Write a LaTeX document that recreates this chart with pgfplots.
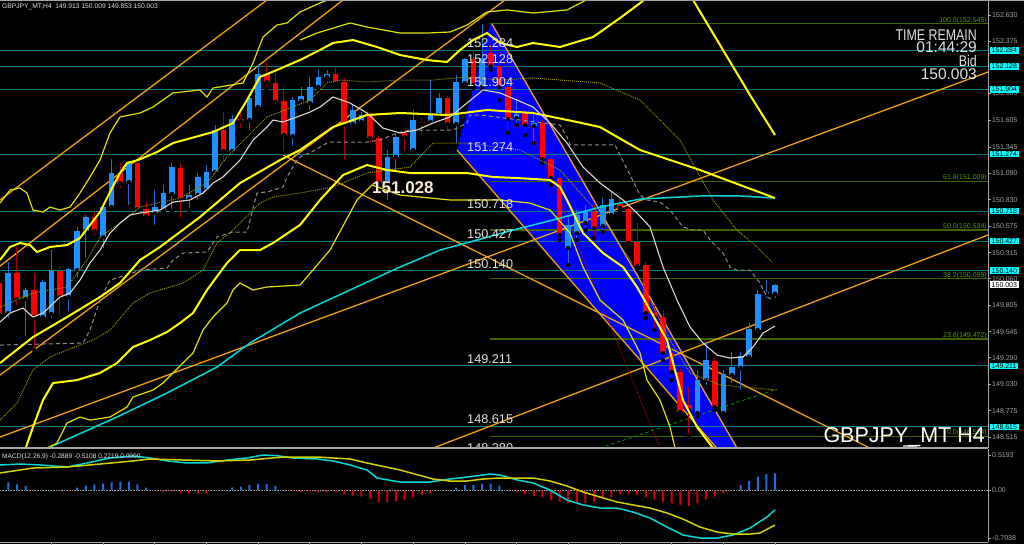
\documentclass[border=0pt]{standalone}
\usepackage{pgfplots}
\usepackage{pgfplotstable}
\usepackage{graphicx}
\pgfplotsset{compat=1.18}
\usepackage{fontspec}
\setmainfont{Liberation Sans}

\definecolor{tealL}{RGB}{0,128,128}
\definecolor{fibg}{RGB}{60,100,0}
\definecolor{fibtxt}{RGB}{80,160,0}
\definecolor{orangeL}{RGB}{240,160,20}
\definecolor{yel}{RGB}{255,255,0}
\definecolor{yelthin}{RGB}{225,225,0}
\definecolor{cyanL}{RGB}{0,215,215}
\definecolor{whiteMA}{RGB}{225,215,205}
\definecolor{greyD}{RGB}{150,140,130}
\definecolor{oliveD}{RGB}{150,150,0}
\definecolor{bull}{RGB}{30,144,255}
\definecolor{bullw}{RGB}{30,110,210}
\definecolor{bear}{RGB}{255,0,0}
\definecolor{bearw}{RGB}{170,0,0}
\definecolor{axgrey}{RGB}{165,165,165}
\definecolor{lbl}{RGB}{225,225,225}
\definecolor{boxcyan}{RGB}{0,255,255}
\definecolor{hblue}{RGB}{30,110,220}
\definecolor{hred}{RGB}{210,0,0}
\definecolor{macdyel}{RGB}{210,210,0}
\definecolor{peach}{RGB}{250,235,215}

\pgfplotstableread{
x o h l c
8.27 149.725 150.222 149.657 150.115
25.50 149.862 149.969 149.482 149.950
42.73 149.686 150.047 149.657 150.028
51.34 149.716 150.339 149.657 150.135
68.57 149.881 150.164 149.725 150.154
77.19 150.144 150.564 150.047 150.525
85.80 150.525 150.680 150.242 150.661
103.03 150.466 150.778 150.339 150.758
111.65 150.758 151.226 150.739 151.090
128.88 151.002 151.207 150.758 151.187
154.72 150.700 150.924 150.564 150.758
163.34 150.729 150.973 150.710 150.895
171.95 150.885 151.187 150.720 151.148
189.18 150.836 150.973 150.729 150.875
197.80 150.875 151.090 150.807 151.051
206.41 150.924 151.168 150.905 151.100
215.03 151.100 151.558 151.090 151.509
232.26 151.304 151.655 151.246 151.616
249.49 151.606 151.831 151.489 151.821
258.10 151.733 152.142 151.684 152.055
292.56 151.450 151.831 151.333 151.801
301.18 151.792 151.928 151.772 151.840
309.79 151.772 152.026 151.684 151.928
318.41 151.928 152.094 151.899 152.026
327.02 152.026 152.094 151.996 152.055
352.87 151.567 151.762 151.538 151.704
361.48 151.587 151.684 151.558 151.655
387.33 150.992 151.314 150.807 151.246
395.94 151.246 151.470 151.090 151.441
413.17 151.314 151.704 151.294 151.606
430.40 151.587 151.996 151.567 151.655
439.02 151.655 151.870 151.626 151.821
456.25 151.567 152.045 151.363 151.977
464.86 151.967 152.211 151.938 152.201
482.09 151.928 152.545 151.899 152.211
516.55 151.626 151.801 151.558 151.665
533.78 151.548 151.675 151.382 151.577
568.24 150.359 150.651 150.193 150.583
576.86 150.505 150.729 150.437 150.680
585.47 150.602 150.778 150.534 150.710
602.70 150.573 150.846 150.515 150.778
611.32 150.680 150.905 150.632 150.836
697.47 148.751 149.170 148.721 149.072
706.08 149.072 149.433 149.004 149.267
723.31 148.751 149.170 148.721 149.131
731.93 149.121 149.345 149.024 149.199
740.54 149.189 149.345 148.955 149.306
749.16 149.297 149.628 149.267 149.569
757.77 149.560 149.950 149.511 149.911
766.39 149.911 150.047 149.852 149.930
775.00 149.913 150.009 149.853 150.003
}\bulltab

\pgfplotstableread{
x o h l c
-0.35 150.018 150.066 149.677 149.725
16.88 150.115 150.369 149.784 149.862
34.11 149.950 150.115 149.365 149.686
59.96 150.135 150.174 149.677 149.881
94.42 150.661 150.710 150.466 150.525
120.26 151.090 151.187 150.924 150.992
137.49 151.187 151.265 150.729 150.739
146.11 150.739 150.807 150.632 150.671
180.57 151.139 151.187 150.632 150.836
223.64 151.509 151.684 151.187 151.304
240.87 151.616 151.684 151.509 151.597
266.72 152.055 152.172 151.909 151.977
275.33 151.967 152.094 151.753 151.782
283.95 151.792 151.928 151.285 151.460
335.64 152.055 152.113 151.938 151.967
344.25 151.977 152.016 151.197 151.567
370.10 151.655 151.684 151.363 151.431
378.71 151.431 151.450 150.963 150.992
404.56 151.480 151.499 151.285 151.441
421.79 151.587 151.626 151.441 151.577
447.63 151.821 151.840 151.489 151.567
473.48 152.201 152.289 151.918 151.948
490.71 152.259 152.337 152.094 152.133
499.32 152.133 152.191 151.801 151.928
507.94 151.928 151.948 151.480 151.616
525.17 151.675 151.704 151.460 151.558
542.40 151.577 151.606 151.187 151.226
551.01 151.226 151.265 150.973 151.041
559.63 151.041 151.100 150.437 150.486
594.09 150.710 150.778 150.456 150.554
619.93 150.788 150.846 150.710 150.749
628.55 150.739 150.778 150.378 150.408
637.16 150.417 150.602 150.144 150.183
645.78 150.193 150.222 149.677 149.725
654.39 149.725 149.803 149.560 149.686
663.01 149.686 149.755 149.267 149.335
671.62 149.335 149.384 149.072 149.150
680.24 149.150 149.189 148.731 148.760
688.85 148.829 149.004 148.524 148.780
714.70 149.257 149.287 148.780 148.809
}\beartab

\begin{document}
\begin{tikzpicture}
\fill[black] (0,0) rectangle (1024pt,544pt);
\begin{axis}[
  at={(0pt,96pt)}, anchor=south west, scale only axis,
  width=988pt, height=448pt,
  xmin=0, xmax=988, ymin=148.41, ymax=152.776,
  clip mode=individual,
  axis x line=none, axis y line*=right,
  axis line style={draw=axgrey, line width=1pt},
  ytick={152.630,152.375,151.865,151.605,151.345,151.090,150.830,150.575,150.315,150.060,149.805,149.545,149.290,149.030,148.775,148.515},
  yticklabels={152.630,152.375,151.865,151.605,151.345,151.090,150.830,150.575,150.315,150.060,149.805,149.545,149.290,149.030,148.775,148.515},
  yticklabel style={font=\fontsize{7}{7}\selectfont, text=axgrey, inner sep=1pt, text height=5pt, text depth=0pt},
  major tick length=3pt, tick style={draw=axgrey, line width=0.6pt}, tick align=outside,
]
% blue channel
\addplot[fill=blue, draw=none, forget plot] coordinates {(490,152.542) (457,151.314) (762,147.903) (767,147.903) (492,152.542)};
% horizontal teal lines
\foreach \p in {152.284,152.128,151.904,151.274,150.718,150.427,150.140,149.211,148.615}{
  \edef\tmp{\noexpand\addplot[tealL, line width=1pt, forget plot] coordinates {(0,\p) (988,\p)};}\tmp
}
% fibonacci
\foreach \p in {152.545,151.009,150.534,150.059,149.472,148.524}{
  \edef\tmp{\noexpand\addplot[fibg, line width=1.2pt, forget plot] coordinates {(490,\p) (988,\p)};}\tmp
}
% orange trend lines
\addplot[orangeL, line width=1.3pt] coordinates {(0,150.827) (267,152.776)};
\addplot[orangeL, line width=1.3pt] coordinates {(0,150.183) (343,152.776)};
\addplot[orangeL, line width=1.3pt] coordinates {(0,149.121) (505,152.776)};
\addplot[orangeL, line width=1.3pt] coordinates {(0,148.517) (988,152.074)};
\addplot[orangeL, line width=1.3pt] coordinates {(402,148.293) (988,150.486)};
\addplot[orangeL, line width=1.3pt] coordinates {(283,151.265) (900,148.263)};
\addplot[orangeL, line width=1.3pt] coordinates {(492,152.542) (767,147.903)};
\addplot[orangeL, line width=1.3pt] coordinates {(457,151.314) (762,147.903)};
\addplot[hred, densely dotted, line width=0.8pt] coordinates {(495,152.386) (660,148.410)};
\addplot[green!60!black, dashed, line width=0.9pt] coordinates {(600,148.410) (777,148.985)};
% candles
\addplot[only marks, mark=none, forget plot, error bars/.cd, y dir=plus, y explicit, error mark=none, error bar style={draw=bullw, line width=1pt}] table[x=x, y=l, y error plus expr=\thisrow{h}-\thisrow{l}] {\bulltab};
\addplot[only marks, mark=none, forget plot, error bars/.cd, y dir=plus, y explicit, error mark=none, error bar style={draw=bearw, line width=1pt}] table[x=x, y=l, y error plus expr=\thisrow{h}-\thisrow{l}] {\beartab};
\addplot[only marks, mark=none, forget plot, error bars/.cd, y dir=plus, y explicit, error mark=none, error bar style={draw=bull, line width=5.6pt}] table[x=x, y=o, y error plus expr=\thisrow{c}-\thisrow{o}] {\bulltab};
\addplot[only marks, mark=none, forget plot, error bars/.cd, y dir=plus, y explicit, error mark=none, error bar style={draw=bear, line width=5.6pt}] table[x=x, y=c, y error plus expr=\thisrow{o}-\thisrow{c}] {\beartab};
% cyan MA
\addplot[cyanL, line width=1.5pt] coordinates {(40,148.371)(50,148.419)(117,148.712)(167,148.946)(217,149.199)(250,149.433)(300,149.725)(350,149.950)(400,150.174)(440,150.339)(477,150.437)(513,150.534)(553,150.632)(600,150.758)(640,150.836)(700,150.866)(740,150.866)(775,150.846)};
% grey dashed
\addplot[greyD, line width=1pt, dash pattern=on 4pt off 3pt] coordinates {(0,149.413)(83,149.433)(90,149.560)(100,149.852)(110,150.047)(127,150.096)(140,150.144)(167,150.164)(173,150.242)(183,150.310)(207,150.320)(217,150.466)(233,150.515)(247,150.515)(257,150.895)(267,150.905)(283,150.953)(287,151.051)(297,151.216)(303,151.265)(310,151.285)(327,151.382)(330,151.392)(367,151.392)(380,151.411)(397,151.480)(410,151.509)(453,151.509)(467,151.577)(470,151.655)(480,151.655)(560,151.558)(567,151.441)(570,151.363)(615,151.363)(625,151.168)(640,150.875)(647,150.827)(660,150.807)(670,150.729)(683,150.564)(693,150.534)(703,150.534)(710,150.437)(723,150.310)(730,150.174)(737,150.144)(750,150.144)(760,150.018)(767,149.881)(773,149.852)};
% olive dotted
\addplot[oliveD, line width=1pt, densely dotted] coordinates {(0,149.784)(33,149.920)(67,149.979)(87,150.242)(100,150.466)(120,150.602)(140,150.758)(180,150.846)(207,150.992)(227,151.246)(247,151.441)(267,151.636)(290,151.723)(310,151.801)(327,151.967)(340,151.996)(367,151.977)(400,151.996)(433,151.996)(467,152.026)(500,151.996)(533,152.016)(560,151.996)(600,151.967)(640,151.801)(680,151.411)(713,150.827)(737,150.534)(757,150.369)(773,150.213)};
\addplot[oliveD, line width=1pt, densely dotted] coordinates {(0,148.682)(17,148.848)(33,149.170)(50,149.297)(67,149.365)(93,149.462)(110,149.560)(133,149.823)(150,149.920)(183,150.018)(203,150.144)(217,150.408)(233,150.534)(250,150.700)(260,150.797)(273,150.856)(300,150.895)(333,150.953)(367,151.090)(410,151.148)(433,151.382)(467,151.382)(520,151.314)(560,151.119)(600,150.680)(630,150.242)(650,149.852)(670,149.462)(690,149.141)(720,149.024)(777,148.975)};
% yellow lines
\addplot[yel, line width=2pt] coordinates {(0,150.242)(10,150.369)(20,150.408)(30,150.388)(37,150.320)(50,150.369)(67,150.388)(80,150.456)(90,150.583)(100,150.710)(110,150.905)(120,151.090)(127,151.187)(138,151.216)(157,151.294)(173,151.382)(213,151.489)(233,151.577)(247,151.801)(260,152.026)(277,152.094)(300,152.191)(320,152.289)(333,152.357)(353,152.386)(377,152.318)(400,152.240)(427,152.191)(447,152.172)(460,152.289)(473,152.386)(487,152.454)(500,152.357)(517,152.318)(533,152.357)(560,152.318)(593,152.415)(620,152.600)(640,152.745)(650,152.825)};
\addplot[yel, line width=2pt] coordinates {(0,149.238)(33,149.491)(67,149.686)(100,149.881)(120,150.018)(140,150.242)(160,150.369)(200,150.661)(240,150.992)(280,151.216)(300,151.314)(333,151.538)(367,151.655)(400,151.675)(447,151.655)(487,151.704)(533,151.675)(577,151.587)(600,151.538)(640,151.314)(700,151.119)(740,150.973)(775,150.846)};
\addplot[yel, line width=2pt] coordinates {(25,148.390)(33,148.614)(43,148.877)(53,149.043)(77,149.072)(100,149.141)(117,149.238)(133,149.394)(150,149.462)(167,149.540)(180,149.628)(193,149.725)(207,149.950)(227,150.213)(240,150.339)(260,150.339)(273,150.408)(300,150.583)(320,150.827)(343,151.070)(367,151.168)(387,151.119)(410,151.090)(440,151.090)(467,151.090)(493,151.051)(517,151.041)(550,151.022)(560,150.953)(567,150.827)(583,150.505)(603,150.310)(623,150.174)(637,149.979)(650,149.755)(667,149.462)(683,148.877)(697,148.614)(713,148.410)(720,148.293)};
\addplot[yelthin, line width=1.2pt] coordinates {(43,148.390)(57,148.458)(67,148.653)(80,148.712)(90,148.682)(110,148.712)(127,148.809)(133,148.907)(153,148.975)(163,149.043)(173,149.141)(183,149.238)(193,149.335)(203,149.560)(213,149.686)(227,149.823)(233,149.950)(240,150.018)(253,149.950)(267,149.979)(300,149.998)(330,150.339)(357,150.827)(372,150.973)(400,150.875)(450,150.827)(500,150.827)(530,150.797)(550,150.729)(570,150.505)(583,150.174)(600,149.852)(623,149.657)(640,149.335)(647,149.072)(660,148.877)(670,148.614)(675,148.410)(678,148.293)};
\addplot[yelthin, line width=1.2pt] coordinates {(0,150.797)(10,150.924)(20,150.944)(27,150.895)(33,150.729)(43,150.710)(50,150.758)(60,150.729)(70,150.758)(80,150.895)(90,151.051)(100,151.216)(110,151.480)(120,151.636)(140,151.675)(153,151.733)(173,151.870)(200,151.899)(207,151.831)(213,151.918)(243,151.967)(253,152.162)(263,152.415)(277,152.532)(287,152.552)(300,152.659)(320,152.747)(340,152.825)};
\addplot[yelthin, line width=1.2pt] coordinates {(300,152.386)(317,152.454)(350,152.552)(367,152.513)(400,152.454)(427,152.454)(450,152.464)(467,152.532)(487,152.659)(507,152.679)(533,152.649)(567,152.679)(590,152.795)};
\addplot[yel, line width=2pt] coordinates {(690,152.825)(720,152.337)(750,151.850)(775,151.460)};
% white MA
\addplot[whiteMA, line width=1.1pt] coordinates {(0,149.638)(10,149.725)(23,149.774)(33,149.686)(43,149.725)(60,149.881)(70,149.920)(80,150.047)(90,150.213)(100,150.339)(110,150.505)(120,150.602)(130,150.680)(140,150.700)(160,150.729)(173,150.807)(190,150.827)(203,150.895)(213,150.992)(223,151.051)(240,151.216)(253,151.411)(267,151.538)(273,151.606)(283,151.587)(297,151.636)(310,151.684)(320,151.733)(333,151.831)(350,151.772)(367,151.675)(383,151.528)(400,151.480)(417,151.509)(433,151.577)(450,151.636)(467,151.772)(483,151.899)(500,151.870)(517,151.801)(533,151.733)(550,151.577)(567,151.382)(583,151.148)(600,150.992)(623,150.827)(637,150.700)(650,150.564)(663,150.174)(677,149.852)(690,149.589)(703,149.433)(717,149.316)(730,149.287)(743,149.297)(753,149.394)(763,149.530)(775,149.599)};
\end{axis}
% cut label at the bottom of the price panel
\node[anchor=base west, inner sep=0, text=lbl, font=\fontsize{12.7}{12.7}\selectfont] at (467pt,91.5pt) {148.280};
\fill[black] (0,0) rectangle (988pt,95.5pt);
\begin{axis}[
  at={(0pt,2pt)}, anchor=south west, scale only axis,
  width=988pt, height=93pt,
  xmin=0, xmax=988, ymin=-0.761, ymax=0.608,
  clip mode=individual,
  axis x line*=bottom, axis y line*=right,
  axis line style={draw=axgrey, line width=1pt},
  xtick={51.34,103.03,154.72,206.41,258.10,309.79,361.48,413.17,464.86,516.55,568.24,619.93,671.62,723.31,775.00},
  xticklabels={},
  ytick={0.5193,0,-0.7038}, yticklabels={0.5193,0.00,-0.7038},
  yticklabel style={font=\fontsize{7}{7}\selectfont, text=axgrey, inner sep=1pt, text height=5pt, text depth=0pt},
  major tick length=3pt, tick style={draw=axgrey, line width=0.6pt}, tick align=outside,
]
\addplot[axgrey, densely dotted, line width=0.6pt] coordinates {(0,0) (988,0)};
\addplot[ybar, bar width=2pt, bar shift=0pt, fill=hblue, draw=none] coordinates {(8.27,0.118)(16.88,0.088)(25.50,0.063)(34.11,0.005)(51.34,0.008)(77.19,0.04)(85.80,0.068)(94.42,0.088)(103.03,0.097)(111.65,0.118)(120.26,0.127)(128.88,0.127)(137.49,0.088)(146.11,0.04)(215.03,0.003)(223.64,0.003)(232.26,0.044)(240.87,0.053)(249.49,0.078)(258.10,0.1)(266.72,0.092)(275.33,0.063)(283.95,0.003)(447.63,0.002)(456.25,0.04)(464.86,0.078)(473.48,0.078)(482.09,0.1)(490.71,0.1)(499.32,0.068)(507.94,0.002)(740.54,0.078)(749.16,0.14)(757.77,0.2)(766.39,0.24)(775.00,0.25)};
\addplot[ybar, bar width=2pt, bar shift=0pt, fill=hred, draw=none] coordinates {(59.96,-0.01)(68.57,-0.01)(154.72,-0.01)(163.34,-0.02)(171.95,-0.02)(180.57,-0.045)(189.18,-0.045)(197.80,-0.045)(206.41,-0.04)(292.56,-0.01)(301.18,-0.025)(309.79,-0.02)(318.41,-0.03)(327.02,-0.03)(335.64,-0.03)(344.25,-0.06)(352.87,-0.08)(361.48,-0.094)(370.10,-0.118)(378.71,-0.177)(387.33,-0.177)(395.94,-0.158)(404.56,-0.143)(413.17,-0.103)(421.79,-0.07)(430.40,-0.04)(439.02,-0.005)(516.55,-0.02)(525.17,-0.055)(533.78,-0.085)(542.40,-0.103)(551.01,-0.143)(559.63,-0.167)(568.24,-0.192)(576.86,-0.192)(585.47,-0.187)(594.09,-0.167)(602.70,-0.133)(611.32,-0.103)(619.93,-0.06)(628.55,-0.06)(637.16,-0.07)(645.78,-0.103)(654.39,-0.133)(663.01,-0.167)(671.62,-0.192)(680.24,-0.217)(688.85,-0.231)(697.47,-0.192)(706.08,-0.133)(714.70,-0.094)(723.31,-0.045)(731.93,-0.003)};
\addplot[cyanL, line width=1.5pt] coordinates {(0,0.373)(20,0.387)(40,0.373)(67,0.343)(87,0.402)(110,0.476)(133,0.505)(150,0.476)(167,0.432)(187,0.402)(207,0.402)(227,0.446)(247,0.476)(263,0.519)(277,0.510)(293,0.476)(317,0.461)(333,0.432)(350,0.373)(367,0.299)(377,0.181)(400,0.122)(430,0.122)(450,0.166)(467,0.196)(490,0.240)(500,0.225)(517,0.152)(533,0.108)(550,0.004)(567,-0.143)(583,-0.216)(600,-0.261)(617,-0.261)(633,-0.320)(650,-0.408)(667,-0.541)(683,-0.658)(700,-0.703)(717,-0.703)(733,-0.658)(750,-0.555)(767,-0.393)(775,-0.289)};
\addplot[macdyel, line width=1.5pt] coordinates {(0,0.255)(33,0.328)(67,0.343)(100,0.387)(133,0.432)(150,0.461)(183,0.446)(217,0.432)(250,0.446)(283,0.490)(317,0.490)(350,0.461)(367,0.402)(400,0.299)(433,0.166)(450,0.137)(467,0.137)(483,0.166)(500,0.181)(533,0.181)(550,0.137)(567,0.063)(583,-0.025)(600,-0.099)(617,-0.172)(633,-0.216)(650,-0.261)(667,-0.334)(683,-0.423)(700,-0.541)(717,-0.614)(733,-0.644)(750,-0.644)(760,-0.629)(775,-0.511)};
\end{axis}
% frame lines
\draw[axgrey, line width=2pt] (0,96pt) -- (988pt,96pt);
\draw[axgrey, line width=1pt] (0,543.5pt) -- (1024pt,543.5pt);
\fill[axgrey] (903pt,97pt) rectangle (917pt,99pt);
% texts
\node[anchor=base west, inner sep=0, text=lbl, font=\fontsize{6.7}{6.7}\selectfont] at (2pt,535pt) {GBPJPY\_MT,H4\ \ 149.913 150.009 149.853 150.003};
\node[anchor=base west, inner sep=0, text=lbl, font=\fontsize{6.6}{6.6}\selectfont] at (2pt,86pt) {MACD(12,26,9) -0.2889 -0.5108 0.2219 0.0000};
\foreach \t/\b in {152.284/47.5,152.128/63.5,151.904/86.5,151.274/151.5,150.718/208.5,150.427/238.5,150.140/268.5,149.211/363.5,148.615/423.5}{
  \node[anchor=base west, inner sep=0, text=lbl, text height=9pt, text depth=0pt, font=\fontsize{12.7}{12.7}\selectfont] at (467pt,{(544-\b)*1pt}) {\t};
}
\node[anchor=base west, inner sep=0, text=peach, font=\bfseries\fontsize{17}{17}\selectfont] at (372pt,350pt) {151.028};
% fibo labels
\foreach \t/\y in {100.0(152.545)/23.7,61.8(151.009)/181.3,50.0(150.534)/230,38.2(150.059)/278.8,23.6(149.472)/339}{
  \node[anchor=base east, inner sep=0, text=fibtxt, text height=5pt, text depth=1pt, font=\fontsize{7}{7}\selectfont] at (987pt,{(544-\y+1.5)*1pt}) {\t};
}
\node[anchor=base east, inner sep=0, text=fibtxt, text height=5pt, text depth=1pt, font=\fontsize{7}{7}\selectfont] at (987pt,109.2pt) {0.0(148.524)};
% right price boxes
\foreach \t/\y in {152.284/50.5,152.128/66.5,151.904/89.5,151.274/154.1,150.718/211.2,150.427/241.0,150.140/270.5,149.211/365.8,148.615/426.9}{
  \node[anchor=west, fill=boxcyan, text=black, inner xsep=1.5pt, inner ysep=0.6pt, text height=5pt, text depth=0pt, font=\fontsize{7}{7}\selectfont] at (990pt,{(544-\y)*1pt}) {\t};
}
\node[anchor=west, fill=white, text=black, inner xsep=1.5pt, inner ysep=0.6pt, text height=5pt, text depth=0pt, font=\fontsize{7}{7}\selectfont] at (990pt,259.5pt) {150.003};
% time remain block
\node[anchor=base east, inner sep=0, text=lbl, text height=10.5pt, text depth=0pt, font=\fontsize{15.5}{15.5}\selectfont] at (977pt,503pt) {\scalebox{0.8}[1]{TIME REMAIN}};
\node[anchor=base east, inner sep=0, text=lbl, text height=10.5pt, text depth=0pt, font=\fontsize{15.5}{15.5}\selectfont] at (977pt,491pt) {01:44:29};
\node[anchor=base east, inner sep=0, text=lbl, text height=10.5pt, text depth=0pt, font=\fontsize{15.5}{15.5}\selectfont] at (977pt,477pt) {\scalebox{0.8}[1]{Bid}};
\node[anchor=base east, inner sep=0, text=lbl, text height=10.5pt, text depth=0pt, font=\fontsize{15.5}{15.5}\selectfont] at (977pt,464pt) {150.003};
\node[anchor=base east, inner sep=0, text=white, text height=15pt, text depth=0pt, font=\fontsize{21.5}{21.5}\selectfont] at (985pt,102pt) {GBPJPY\_MT H4};
\pgfresetboundingbox
\path[use as bounding box] (0,0) rectangle (1024pt,544pt);
\end{tikzpicture}
\end{document}
